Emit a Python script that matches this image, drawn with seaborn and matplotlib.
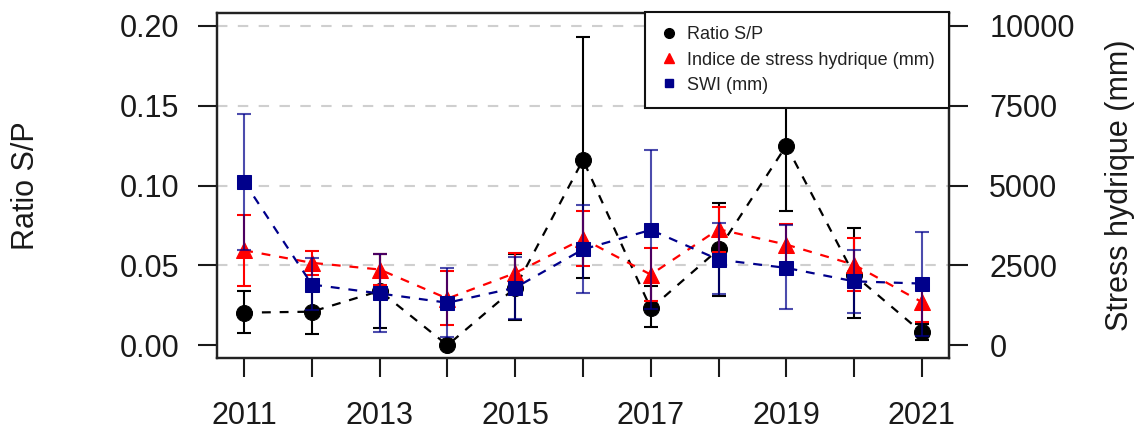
import numpy as np
import pandas as pd
import matplotlib
matplotlib.use("Agg")
import matplotlib.pyplot as plt
import seaborn as sns
from matplotlib.lines import Line2D

sns.set_theme(style="white")
plt.rcParams['font.family'] = ['Liberation Sans', 'DejaVu Sans']

years = [2011, 2012, 2013, 2014, 2015, 2016, 2017, 2018, 2019, 2020, 2021]
xtick_labels = ["2011", "", "2013", "", "2015", "", "2017", "", "2019", "", "2021"]

ratio = [0.0204, 0.021, 0.034, 0.0, 0.036, 0.116, 0.023, 0.060, 0.125, 0.044, 0.008]
ratio_lo = [0.0079, 0.0069, 0.011, 0.0, 0.016, 0.042, 0.0117, 0.0307, 0.084, 0.0168, 0.003]
ratio_hi = [0.0338, 0.035, 0.057, 0.0, 0.057, 0.193, 0.037, 0.0888, 0.166, 0.0733, 0.013]

stress = [2970, 2580, 2370, 1460, 2260, 3330, 2210, 3630, 3150, 2520, 1350]
stress_lo = [1850, 2200, 1870, 620, 1630, 2470, 1380, 2920, 2500, 1690, 730]
stress_hi = [4080, 2960, 2870, 2310, 2890, 4190, 3040, 4340, 3800, 3350, 1970]

swi = [5120, 1900, 1620, 1330, 1800, 3000, 3610, 2680, 2420, 2000, 1930]
swi_lo = [2990, 1100, 400, 250, 830, 1640, 1120, 1590, 1120, 1020, 300]
swi_hi = [7250, 2730, 2870, 2420, 2770, 4390, 6110, 3820, 3770, 2990, 3560]

left_ticks = [0.00, 0.05, 0.10, 0.15, 0.20]
right_ticks = [0, 2500, 5000, 7500, 10000]

legend_labels = ["Ratio S/P", "Indice de stress hydrique (mm)", "SWI (mm)"]

BLACK = "#000000"
RED = "#FF0000"
BLUE = "#00008B"
TXT = "#1a1a1a"
FS = 22

fig = plt.figure(figsize=(11.41, 4.32), dpi=100)
ax = fig.add_axes([217/1141, 1 - 358/432, (949-217)/1141, (358-13)/432])
ax2 = ax.twinx()

dash = (0, (4, 4))

# Ratio S/P (left axis)
ax.errorbar(years, ratio,
            yerr=[np.array(ratio) - np.array(ratio_lo), np.array(ratio_hi) - np.array(ratio)],
            fmt='none', ecolor=BLACK, elinewidth=1.5, capsize=5, capthick=1.5, zorder=2)
sns.lineplot(x=years, y=ratio, ax=ax, color=BLACK, linestyle=dash, linewidth=1.6,
             marker='o', markersize=11.5, markeredgecolor=BLACK, markerfacecolor=BLACK,
             legend=False, zorder=3)

# Stress (right axis)
ax2.errorbar(years, stress,
             yerr=[np.array(stress) - np.array(stress_lo), np.array(stress_hi) - np.array(stress)],
             fmt='none', ecolor=RED, elinewidth=1.5, capsize=5, capthick=1.5, zorder=2)
sns.lineplot(x=years, y=stress, ax=ax2, color=RED, linestyle=dash, linewidth=1.6,
             marker='^', markersize=12, markeredgecolor=RED, markerfacecolor=RED,
             legend=False, zorder=3)

# SWI (right axis)
ax2.errorbar(years, swi,
             yerr=[np.array(swi) - np.array(swi_lo), np.array(swi_hi) - np.array(swi)],
             fmt='none', ecolor=BLUE, elinewidth=1.5, capsize=5, capthick=1.5, alpha=0.7, zorder=4)
sns.lineplot(x=years, y=swi, ax=ax2, color=BLUE, linestyle=dash, linewidth=1.6, alpha=1.0,
             marker='s', markersize=10.5, markeredgecolor=BLUE, markerfacecolor=BLUE,
             legend=False, zorder=5)

# Axis limits
ax.set_xlim(2010.6, 2021.4)
ax.set_ylim(-0.008, 0.208)
ax2.set_ylim(-400, 10400)

# Grid
for yv in left_ticks[1:]:
    ax.axhline(yv, color="#cfcfcf", linewidth=1.5, linestyle=(0, (5, 5)), zorder=0)

# Ticks
ax.set_xticks(years)
ax.set_xticklabels(xtick_labels)
ax.set_yticks(left_ticks)
ax.set_yticklabels([f"{v:.2f}" for v in left_ticks])
ax2.set_yticks(right_ticks)
ax2.set_yticklabels([str(v) for v in right_ticks])

ax.tick_params(axis='x', direction='out', length=14, width=1.5, colors=TXT,
               labelsize=FS, pad=17, bottom=True)
ax.tick_params(axis='y', direction='out', length=14, width=1.5, colors=TXT,
               labelsize=FS, pad=13, left=True)
ax2.tick_params(axis='y', direction='out', length=14, width=1.5, colors=TXT,
                labelsize=FS, pad=15, right=True)

for a in (ax, ax2):
    for sp in a.spines.values():
        sp.set_color("#222222")
        sp.set_linewidth(1.6)
        sp.set_visible(True)
ax.grid(False)
ax2.grid(False)

ax.set_xlabel("")
ax.set_ylabel("Ratio S/P", fontsize=FS, color=TXT)
ax.yaxis.set_label_coords(-0.240, 0.5)
ax2.set_ylabel("Stress hydrique (mm)", fontsize=FS, color=TXT)
ax2.yaxis.set_label_coords(1.213, 0.5)

handles = [
    Line2D([], [], linestyle='none', marker='o', color=BLACK, markersize=7),
    Line2D([], [], linestyle='none', marker='^', color=RED, markersize=7),
    Line2D([], [], linestyle='none', marker='s', color=BLUE, markersize=6),
]
leg = ax2.legend(handles, legend_labels, loc='upper right', bbox_to_anchor=(1.0, 1.003),
                 borderaxespad=0, fontsize=13, frameon=True, fancybox=False,
                 framealpha=1, edgecolor="#111111", handlelength=1.0, handletextpad=0.5,
                 labelspacing=0.45, borderpad=0.8)
leg.get_frame().set_linewidth(1.5)
for t in leg.get_texts():
    t.set_color("#222222")
leg.set_zorder(10)

fig.savefig("out.png", dpi=100)
